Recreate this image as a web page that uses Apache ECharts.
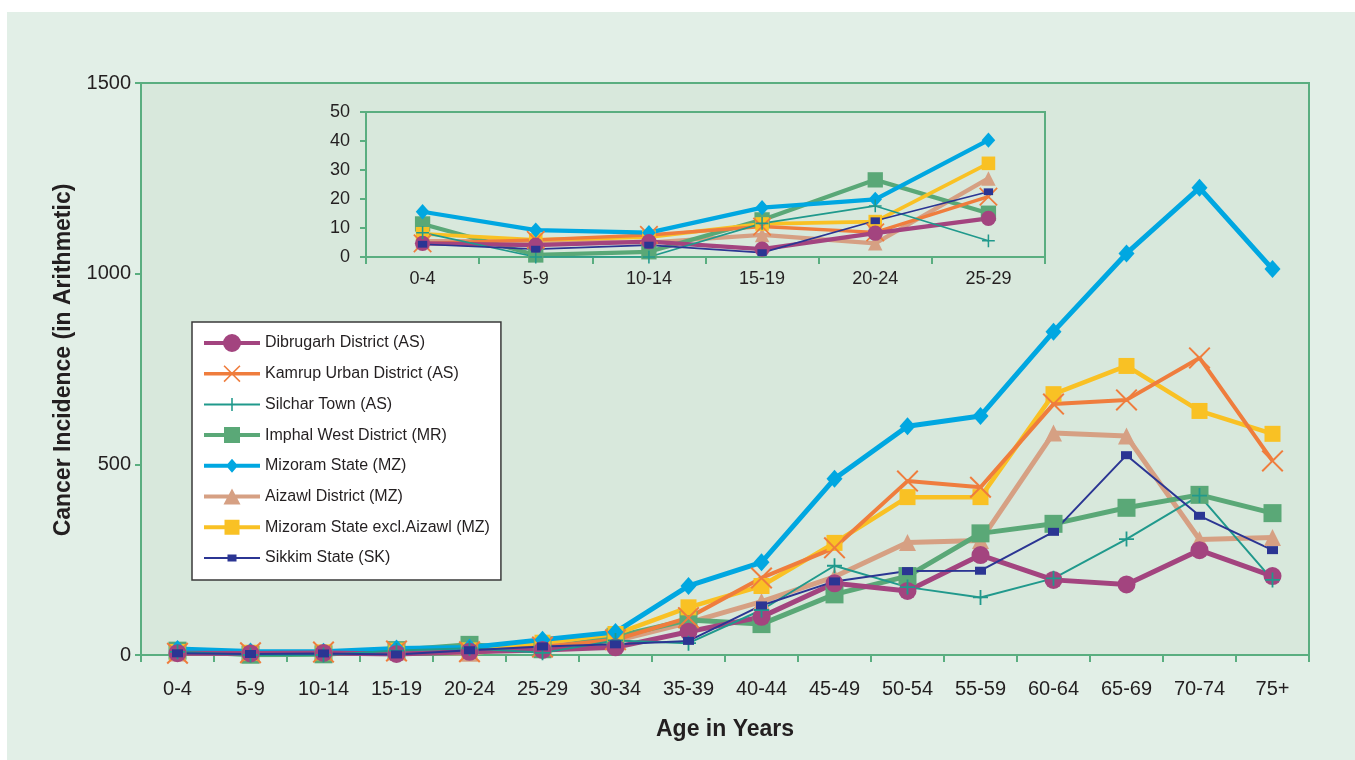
<!DOCTYPE html>
<html>
<head>
<meta charset="utf-8">
<script src="https://cdn.jsdelivr.net/npm/echarts@6/dist/echarts.min.js"></script>
<style>
  html, body { margin: 0; padding: 0; background: #fff; }
  #chart { width: 1355px; height: 760px; }
</style>
</head>
<body>
<div id="chart"></div>
<script>
// age groups (x categories)
const ages = ['0-4', '5-9', '10-14', '15-19', '20-24', '25-29', '30-34', '35-39',
  '40-44', '45-49', '50-54', '55-59', '60-64', '65-69', '70-74', '75+'];
// the small chart only shows the youngest groups
const insetCount = 6;

// incidence per registry
const dibrugarh   = [4.7, 4.1, 5.3, 2.7, 8.2, 13.3, 20, 61, 100, 188, 168, 262, 197, 185, 275, 207];
const kamrup      = [4.7, 5.9, 7.6, 10.5, 8.5, 20.8, 40, 98, 202, 281, 456, 440, 658, 669, 779, 509];
const silchar     = [8.4, 0, 0, 11.6, 17.6, 5.6, 38, 31, 118, 234, 178, 151, 201, 304, 418, 197];
const imphal      = [11.4, 0.7, 1.8, 12.8, 26.6, 15.1, 48, 92, 81, 159, 207, 319, 344, 386, 420, 372];
const mizoram     = [15.6, 9.3, 8.4, 17, 19.9, 40.3, 60, 181, 243, 462, 600, 627, 848, 1053, 1225, 1012];
const aizawl      = [5.5, 5.5, 5, 7.6, 4.7, 27.1, 37, 85, 140, 205, 295, 300, 582, 574, 303, 308];
const mizoramExcl = [8, 5.9, 6.9, 11.4, 12.2, 32.3, 55, 125, 181, 294, 414, 414, 684, 758, 640, 580];
const sikkim      = [4.4, 2.7, 4.1, 1.5, 12.5, 22.5, 28, 37, 130, 193, 220, 221, 323, 524, 365, 275];

const mainTicks = [0, 500, 1000, 1500];
const insetTicks = [0, 10, 20, 30, 40, 50];

const legendOrder = [
  'Dibrugarh District (AS)', 'Kamrup Urban District (AS)', 'Silchar Town (AS)',
  'Imphal West District (MR)', 'Mizoram State (MZ)', 'Aizawl District (MZ)',
  'Mizoram State excl.Aizawl (MZ)', 'Sikkim State (SK)'
];

const ink = '#231f20';
const green = '#5aae80';
const plotBg = '#d8e8dc';
const font = 'Liberation Sans, Arial, Helvetica, sans-serif';

// marker outlines in a 20x20 box
const xPts = [[0,1.3],[1.3,0],[10,8.7],[18.7,0],[20,1.3],[11.3,10],[20,18.7],[18.7,20],[10,11.3],[1.3,20],[0,18.7],[8.7,10]];
const plusPts = [[8.8,0],[11.2,0],[11.2,8.8],[20,8.8],[20,11.2],[11.2,11.2],[11.2,20],[8.8,20],[8.8,11.2],[0,11.2],[0,8.8],[8.8,8.8]];

// legend icons: line + marker, drawn in a 56x20 box, all clockwise
const IW = 56, IH = 20, CX = 28, CY = 10;
function bar(t) { return `M0,${CY - t / 2}L${IW},${CY - t / 2}L${IW},${CY + t / 2}L0,${CY + t / 2}Z`; }
function box(w, h) { return `M${CX - w / 2},${CY - h / 2}L${CX + w / 2},${CY - h / 2}L${CX + w / 2},${CY + h / 2}L${CX - w / 2},${CY + h / 2}Z`; }
function disc(r) { return `M${CX - r},${CY}A${r},${r},0,1,1,${CX + r},${CY}A${r},${r},0,1,1,${CX - r},${CY}Z`; }
function diamond(w, h) { return `M${CX},${CY - h / 2}L${CX + w / 2},${CY}L${CX},${CY + h / 2}L${CX - w / 2},${CY}Z`; }
function tri(w, h) { return `M${CX},${CY - h / 2}L${CX + w / 2},${CY + h / 2}L${CX - w / 2},${CY + h / 2}Z`; }
function poly(pts, s, ox, oy) {
  return pts.map((p, i) => (i ? 'L' : 'M') + (ox + (p[0] - 10) * s / 20) + ',' + (oy + (p[1] - 10) * s / 20)).join('') + 'Z';
}

const look = {
  'Dibrugarh District (AS)':        { data: dibrugarh, color: '#a3447f', width: 5, symbol: 'circle', size: 18, icon: bar(4) + disc(9) },
  'Kamrup Urban District (AS)':     { data: kamrup, color: '#ef7d3d', width: 4, symbol: 'path://' + poly(xPts, 20, 10, 10), size: 22, icon: bar(3.5) + poly(xPts, 17, CX, CY) },
  'Silchar Town (AS)':              { data: silchar, color: '#20998c', width: 2, symbol: 'path://' + poly(plusPts, 20, 10, 10), size: 15, icon: bar(2) + poly(plusPts, 13, CX, CY) },
  'Imphal West District (MR)':      { data: imphal, color: '#5aa877', width: 5, symbol: 'rect', size: 18, icon: bar(4) + box(16, 16) },
  'Mizoram State (MZ)':             { data: mizoram, color: '#00a7e1', width: 5, symbol: 'diamond', size: [16, 18], icon: bar(4) + diamond(12, 14) },
  'Aizawl District (MZ)':           { data: aizawl, color: '#d6a083', width: 5, symbol: 'triangle', size: 17, icon: bar(4) + tri(17, 16) },
  'Mizoram State excl.Aizawl (MZ)': { data: mizoramExcl, color: '#f9c124', width: 4.5, symbol: 'rect', size: 16, icon: bar(4) + box(15, 15) },
  'Sikkim State (SK)':              { data: sikkim, color: '#2b3593', width: 2, symbol: 'rect', size: [11, 8], icon: bar(2) + box(9, 7) }
};

// drawing order, bottom to top
const drawOrder = [
  'Aizawl District (MZ)', 'Imphal West District (MR)', 'Mizoram State excl.Aizawl (MZ)',
  'Kamrup Urban District (AS)', 'Mizoram State (MZ)', 'Dibrugarh District (AS)',
  'Silchar Town (AS)', 'Sikkim State (SK)'
];

function scaleSize(s, k) { return Array.isArray(s) ? s.map(v => v * k) : s * k; }

function makeSeries(name, idx, k) {
  const l = look[name];
  return {
    name: name,
    type: 'line',
    xAxisIndex: idx,
    yAxisIndex: idx,
    data: idx === 0 ? l.data : l.data.slice(0, insetCount),
    symbol: l.symbol,
    symbolSize: scaleSize(l.size, k),
    showAllSymbol: true,
    color: l.color,
    lineStyle: { color: l.color, width: l.width * k },
    itemStyle: { color: l.color, borderWidth: 0 },
    emphasis: { disabled: true },
    animation: false
  };
}

const series = [];
drawOrder.forEach(n => series.push(makeSeries(n, 0, 1)));
drawOrder.forEach(n => series.push(makeSeries(n, 1, 0.85)));

function catAxis(gridIndex, cats, size, margin) {
  return {
    type: 'category',
    gridIndex: gridIndex,
    data: cats,
    boundaryGap: true,
    axisLine: { show: true, lineStyle: { color: green, width: 2 } },
    axisTick: { show: true, alignWithLabel: false, interval: 0, length: 7, lineStyle: { color: green, width: 2 } },
    axisLabel: { interval: 0, color: ink, fontSize: size, fontFamily: font, margin: margin },
    splitLine: { show: false }
  };
}

function valAxis(gridIndex, ticks, size, margin) {
  return {
    type: 'value',
    gridIndex: gridIndex,
    min: ticks[0],
    max: ticks[ticks.length - 1],
    interval: ticks[1] - ticks[0],
    axisLine: { show: true, lineStyle: { color: green, width: 2 } },
    axisTick: { show: true, length: 6, lineStyle: { color: green, width: 2 } },
    axisLabel: { color: ink, fontSize: size, fontFamily: font, margin: margin, formatter: v => String(v) },
    splitLine: { show: false }
  };
}

const mainX = catAxis(0, ages, 20, 24);
mainX.name = 'Age in Years';
mainX.nameLocation = 'middle';
mainX.nameGap = 63;
mainX.nameTextStyle = { color: ink, fontSize: 23, fontWeight: 'bold', fontFamily: font };

const mainY = valAxis(0, mainTicks, 20, 10);
mainY.name = 'Cancer Incidence (in Arithmetic)';
mainY.nameLocation = 'middle';
mainY.nameGap = 66;
mainY.nameTextStyle = { color: ink, fontSize: 23, fontWeight: 'bold', fontFamily: font, padding: [0, 0, 0, 18] };

const chart = echarts.init(document.getElementById('chart'), null, { renderer: 'canvas' });
chart.setOption({
  backgroundColor: '#ffffff',
  animation: false,
  graphic: [{
    type: 'rect', z: -10, silent: true,
    shape: { x: 7, y: 12, width: 1348, height: 748 },
    style: { fill: '#e2efe7' }
  }],
  grid: [
    { left: 141, top: 83, width: 1168, height: 572, show: true, backgroundColor: plotBg, borderColor: green, borderWidth: 2, outerBoundsMode: 'none' },
    { left: 366, top: 112, width: 679, height: 145, show: true, backgroundColor: plotBg, borderColor: green, borderWidth: 2, outerBoundsMode: 'none' }
  ],
  xAxis: [mainX, catAxis(1, ages.slice(0, insetCount), 18, 13)],
  yAxis: [mainY, valAxis(1, insetTicks, 18, 16)],
  legend: {
    orient: 'vertical',
    left: 192,
    top: 322,
    padding: [11, 11, 12, 12],
    backgroundColor: '#ffffff',
    borderColor: '#3a3a3a',
    borderWidth: 1.5,
    borderRadius: 0,
    itemWidth: IW,
    itemHeight: IH,
    itemGap: 10.7,
    selectedMode: false,
    itemStyle: { borderWidth: 0 },
    textStyle: { color: ink, fontSize: 16, lineHeight: 20, fontFamily: font },
    data: legendOrder.map(n => ({ name: n, icon: 'path://' + look[n].icon }))
  },
  series: series
});
</script>
</body>
</html>
